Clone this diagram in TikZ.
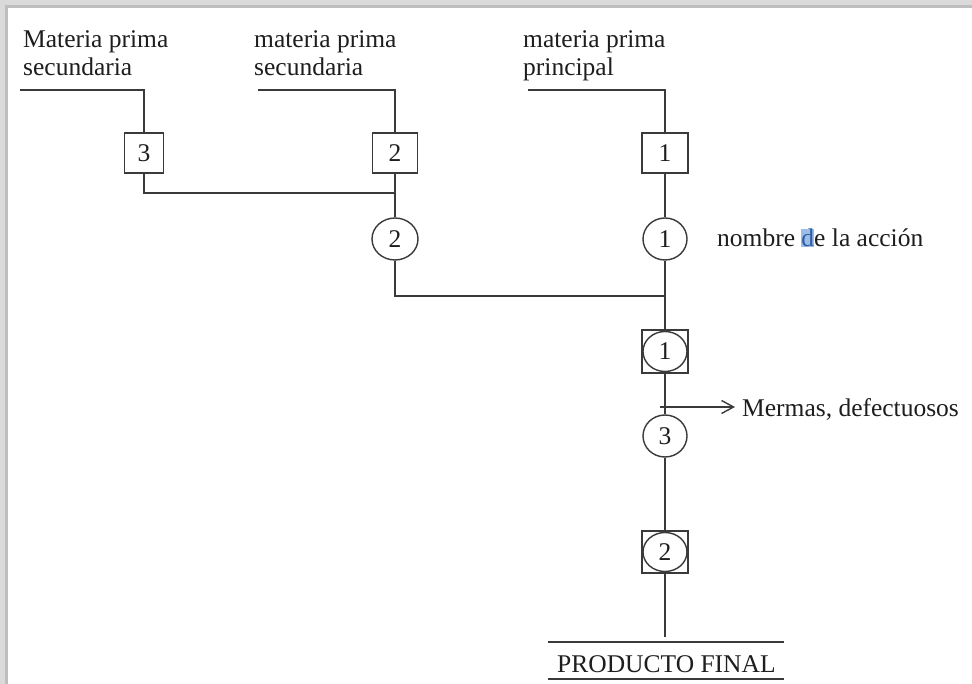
\documentclass[tikz,border=0pt]{standalone}
\usepackage{fontspec}
\setmainfont{Liberation Serif}
\usetikzlibrary{shapes.geometric,arrows.meta}
\definecolor{ink}{HTML}{1E1E1E}
\definecolor{rule}{HTML}{3A3A3A}
\definecolor{frameA}{HTML}{DADADA}
\definecolor{frameB}{HTML}{BEBEBE}
\definecolor{selbg}{HTML}{9CBDE8}
\definecolor{seltx}{HTML}{2D5FA6}
% selected (highlighted) letters
\newcommand{\selmark}[1]{{\setlength{\fboxsep}{0pt}\colorbox{selbg}{\textcolor{seltx}{#1}}}}

\begin{document}
\begin{tikzpicture}[x=1pt,y=-1pt,
  every node/.style={font=\fontsize{25.5}{29}\selectfont, text=ink},
  conn/.style={draw=rule, line width=1.4pt},
  opbox/.style={draw=rule, line width=1.4pt, rectangle, inner sep=0pt, minimum height=40pt, fill=white},
  opcirc/.style={draw=rule, line width=1.4pt, ellipse, inner sep=0pt, minimum width=44pt, minimum height=42pt, fill=white},
  framebox/.style={draw=rule, line width=1.4pt, rectangle, inner sep=0pt, minimum width=46pt, minimum height=43pt},
  lbl/.style={anchor=base west, inner sep=0pt},
]
\useasboundingbox (0,0) rectangle (972,684);
\fill[white] (0,0) rectangle (972,684);

% window frame
\fill[frameA] (0,0) rectangle (972,8);
\fill[frameB] (8,5.5) rectangle (972,8);
\fill[frameA] (0,0) rectangle (8,684);
\fill[frameB] (5,5.5) rectangle (8,684);

% raw material inputs
\node[lbl] (t3a) at (23,48) {Materia prima};
\node[lbl] (t3b) at (23,76) {secundaria};
\node[lbl] (t2a) at (254,48) {materia prima};
\node[lbl] (t2b) at (254,76) {secundaria};
\node[lbl] (t1a) at (523,48) {materia prima};
\node[lbl] (t1b) at (523,76) {principal};

\coordinate (in3) at (20,90);
\coordinate (in2) at (258,90);
\coordinate (in1) at (528,90);

% inspections
\node[opbox, minimum width=39pt] (s3) at (144,153) {3};
\node[opbox, minimum width=45pt] (s2) at (395,153) {2};
\node[opbox, minimum width=46pt] (s1) at (665,153) {1};

% operations
\node[opcirc, minimum width=46pt] (c2) at (395,239) {2};
\node[opcirc] (c1) at (665,239) {1};
\node[lbl] (act) at (717,247) {nombre \selmark{d}e la acción};

% combined operation / inspection
\node[framebox] (q1) at (665,351.5) {};
\node[opcirc, minimum height=40pt] (q1c) at (q1) {1};

\node[opcirc] (c3) at (665,436) {3};
\node[lbl] (mer) at (742,417) {Mermas, defectuosos};

\node[framebox, minimum height=42pt] (q2) at (665,552) {};
\node[opcirc, minimum height=39pt] (q2c) at (q2) {2};

% final product
\node[lbl] (pf) at (557,672) {PRODUCTO FINAL};
\draw[conn] (548,642) -- (784,642);
\draw[conn] (548,679) -- (784,679);

% junctions and free ends
\coordinate (j2) at (395,193);
\coordinate (j1) at (665,296);
\coordinate (m0) at (660,407);
\coordinate (pend) at (665,637);

% flow lines
\draw[conn] (in3) -| (s3.north);
\draw[conn] (in2) -| (s2.north);
\draw[conn] (in1) -| (s1.north);
\draw[conn] (s3.south) |- (j2);
\draw[conn] (s2) -- (c2);
\draw[conn] (c2.south) |- (j1);
\draw[conn] (s1) -- (c1);
\draw[conn] (c1) -- (q1);
\draw[conn] (q1) -- (c3);
\draw[conn] (c3) -- (q2);
\draw[conn] (q2) -- (pend);
\draw[conn, -{Straight Barb[length=12pt,width=13pt]}] (m0) -- ([xshift=-7pt]m0 -| mer.west);
\end{tikzpicture}
\end{document}
